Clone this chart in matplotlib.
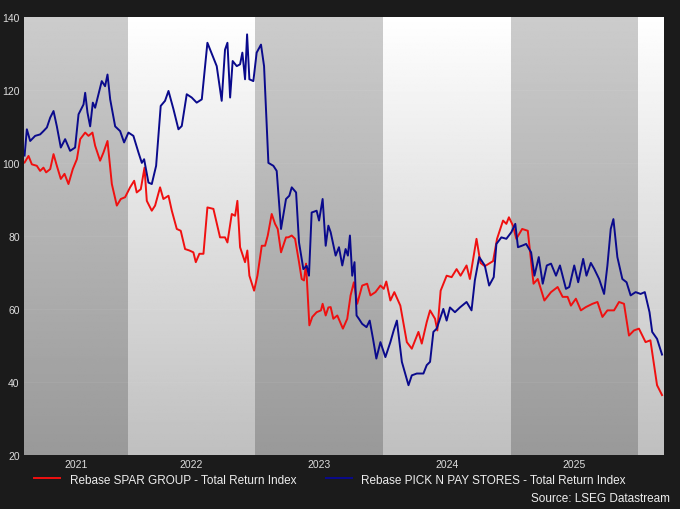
import matplotlib
matplotlib.use("Agg")
import matplotlib.pyplot as plt
import numpy as np

plt.rcParams['font.family'] = ['Liberation Sans', 'DejaVu Sans']

base_year = 2021
spar_t = [.191,.222,.248,.287,.313,.339,.360,.392,.418,.444,.475,.504,.535,.569,.601,.627,.666,.692,.723,.744,.783,.809,.841,.875,.914,.945,.979,1.018,1.050,1.070,1.102,1.131,1.149,1.188,1.214,1.253,1.279,1.319,1.345,1.384,1.415,1.449,1.483,1.514,1.533,1.561,1.593,1.624,1.671,1.723,1.762,1.781,1.815,1.841,1.859,1.880,1.919,1.937,1.953,1.990,2.016,2.050,2.076,2.097,2.128,2.154,2.175,2.201,2.240,2.258,2.285,2.311,2.342,2.363,2.381,2.397,2.423,2.446,2.480,2.514,2.527,2.551,2.572,
          2.590,2.611,2.642,2.686,2.720,2.746,2.772,2.798,2.837,2.876,2.902,2.941,2.980,3.006,3.026,3.058,3.089,3.136,3.187,3.226,3.278,3.304,3.343,3.369,3.408,3.426,3.452,3.499,3.538,3.577,3.608,3.655,3.681,3.733,3.764,3.798,3.863,3.894,3.941,3.967,3.987,4.019,4.045,4.091,4.135,4.180,4.213,4.265,4.317,4.369,4.408,4.447,4.473,4.512,4.551,4.590,4.642,4.681,4.720,4.759,4.811,4.850,4.889,4.928,4.967,5.006,5.058,5.096,5.148,5.187]
spar_v = [100.1,101.9,99.6,99.2,97.8,98.7,97.4,98.3,102.4,99.2,95.6,97,94.2,98.3,101,106.5,108.3,107.4,108.3,104.7,100.6,102.8,106,94.2,88.3,90.1,90.6,93.3,95.1,91.9,92.8,98.7,89.6,86.9,88.3,93.3,90.1,91,86.9,81.9,81.4,76.4,76,75.5,72.8,75.1,75.1,87.8,87.4,79.6,79.6,78.2,86,85.5,89.6,76.9,72.8,76,69.1,65,69.1,77.3,77.3,80.1,86,83.3,81.9,75.5,79.6,79.6,80.1,79.2,72.8,68.2,67.8,72.4,55.5,57.8,59.1,59.6,61.4,58.2,60.4,
          60.5,57.3,58.2,54.6,57.3,63.7,67.3,61.4,66.4,66.9,63.7,64.6,66.4,65.5,67.5,62.3,64.6,60.9,50.9,49.1,53.7,50.5,56.4,59.6,57.3,54.1,65,69.1,68.7,70.9,69.1,71.9,68.2,79.2,72.6,71.7,73.1,79.2,84.2,83.3,85.1,82.8,79.2,81.9,81.4,66.9,68.2,62.3,64.6,66,63.3,63.3,60.9,62.8,59.6,60.5,61.4,61.9,57.8,59.6,59.6,61.9,61.4,52.7,54.1,54.6,50.9,51.4,39.1,36.4]

pnp_t = [.191,.209,.235,.274,.313,.339,.366,.392,.418,.444,.475,.509,.548,.587,.614,.653,.666,.684,.705,.726,.744,.770,.796,.822,.841,.862,.901,.940,.971,1.005,1.044,1.084,1.110,1.128,1.162,1.188,1.222,1.258,1.292,1.319,1.358,1.397,1.423,1.462,1.501,1.540,1.580,1.624,1.671,1.697,1.736,1.762,1.781,1.802,1.822,1.854,1.880,1.898,1.919,1.935,1.953,1.984,2.010,2.044,2.068,2.102,2.141,2.167,2.201,2.240,2.266,2.285,2.319,2.342,2.376,2.402,2.420,2.441,2.480,2.499,2.527,2.551,2.572,
         2.590,2.629,2.655,2.681,2.707,2.725,2.741,2.759,2.777,2.793,2.811,2.837,2.871,2.896,2.922,2.948,2.980,3.019,3.058,3.084,3.109,3.148,3.200,3.226,3.265,3.317,3.343,3.369,3.395,3.421,3.447,3.473,3.499,3.525,3.564,3.603,3.655,3.694,3.720,3.754,3.798,3.832,3.868,3.889,3.928,3.967,4.006,4.037,4.058,4.096,4.122,4.161,4.187,4.221,4.252,4.284,4.317,4.356,4.387,4.434,4.460,4.499,4.530,4.569,4.595,4.629,4.655,4.694,4.733,4.759,4.785,4.806,4.837,4.876,4.909,4.941,4.980,5.019,5.052,5.089,5.110,5.148,5.187]
pnp_v = [102,109.2,106,107.4,107.8,108.7,109.7,112.4,114.2,110,104.2,106.5,103.3,104.2,113.3,116,119.2,113.8,110,116.5,115.1,118.8,122.4,121,124.2,117.4,110,108.7,105.6,108.3,107.4,102.8,100,101,94.6,94.2,99.2,115.6,117,119.7,114.7,109.2,110.1,118.8,117.9,116.5,117.4,132.9,128.8,126.5,117,131,132.9,117.9,127.9,126.5,127,130.2,122.9,135.2,122.9,122.4,130.2,132.4,126.5,100,99.2,97.8,81.9,90.1,91,93.3,91.9,78.2,70.9,71.8,69.1,86.4,86.9,84.2,90.1,77.3,82.8,
         81,74.6,76.9,71.9,76.4,74.6,80.1,69.1,72.8,58.2,57.3,55.9,55,56.8,51.8,46.4,50.9,46.8,50.9,54.1,56.8,45.5,39.1,41.8,42.3,42.3,44.6,45.5,53.7,54.6,57.3,60,56.8,60.4,59.1,60.4,61.9,59.6,67.8,74.2,71.9,66.4,68.7,77.8,79.6,79.2,81,83.3,76.9,77.4,77.8,75.5,69.1,74.2,66.9,71.9,72.4,69.1,71.9,65.5,66,71.9,67.3,73.7,69.1,72.6,71,68.2,64.1,71.9,81.9,84.6,74.2,68.2,67.3,63.7,64.6,64.1,64.6,59.1,53.7,51.8,47.5]

years = [2021, 2022, 2023, 2024, 2025, 2026]
y_ticks = [20, 40, 60, 80, 100, 120, 140]

xmin, xmax = base_year + 0.185, base_year + 5.2

fig = plt.figure(figsize=(6.8, 5.1), dpi=100, facecolor='#1b1b1b')
ax = fig.add_axes([0.035, 0.106, 0.941, 0.859])
ax.set_xlim(xmin, xmax)
ax.set_ylim(20, 140)

grad = np.linspace(0, 1, 256).reshape(-1, 1)
for i, y in enumerate(years):
    a, b = max(y, xmin), min(y + 1, xmax)
    if b <= a:
        continue
    if i % 2 == 0:
        top, bot = 0.80, 0.60
    else:
        top, bot = 1.0, 0.75
    img = bot + (top - bot) * grad
    ax.imshow(img, extent=[a, b, 20, 140], origin='lower', cmap='gray',
              vmin=0, vmax=1, aspect='auto', zorder=0)
for yv in y_ticks[1:-1]:
    ax.axhline(yv, color='white', lw=0.5, alpha=0.08, zorder=1)

st = [base_year + t for t in spar_t]
pt = [base_year + t for t in pnp_t]
ax.plot(st, spar_v, color='#f01010', lw=1.4, zorder=3,
        label='Rebase SPAR GROUP - Total Return Index')
ax.plot(pt, pnp_v, color='#0a0a8c', lw=1.4, zorder=3,
        label='Rebase PICK N PAY STORES - Total Return Index')

xt = [(max(y, xmin) + min(y + 1, xmax)) / 2 for y in years[:-1]]
ax.set_xticks(xt)
ax.set_xticklabels([str(y) for y in years[:-1]])
ax.set_yticks(y_ticks)
ax.tick_params(colors='#dddddd', labelsize=7.5, length=0, pad=3)
for s in ax.spines.values():
    s.set_visible(False)

fig.legend(loc='lower left', bbox_to_anchor=(0.035, 0.025), ncol=2, frameon=False,
           fontsize=8.5, labelcolor='#eeeeee', handlelength=2.2, columnspacing=2.5)
fig.text(0.985, 0.01, 'Source: LSEG Datastream', color='#eeeeee', fontsize=8.5,
         ha='right', va='bottom')

fig.savefig('out.png', dpi=100, facecolor=fig.get_facecolor())
